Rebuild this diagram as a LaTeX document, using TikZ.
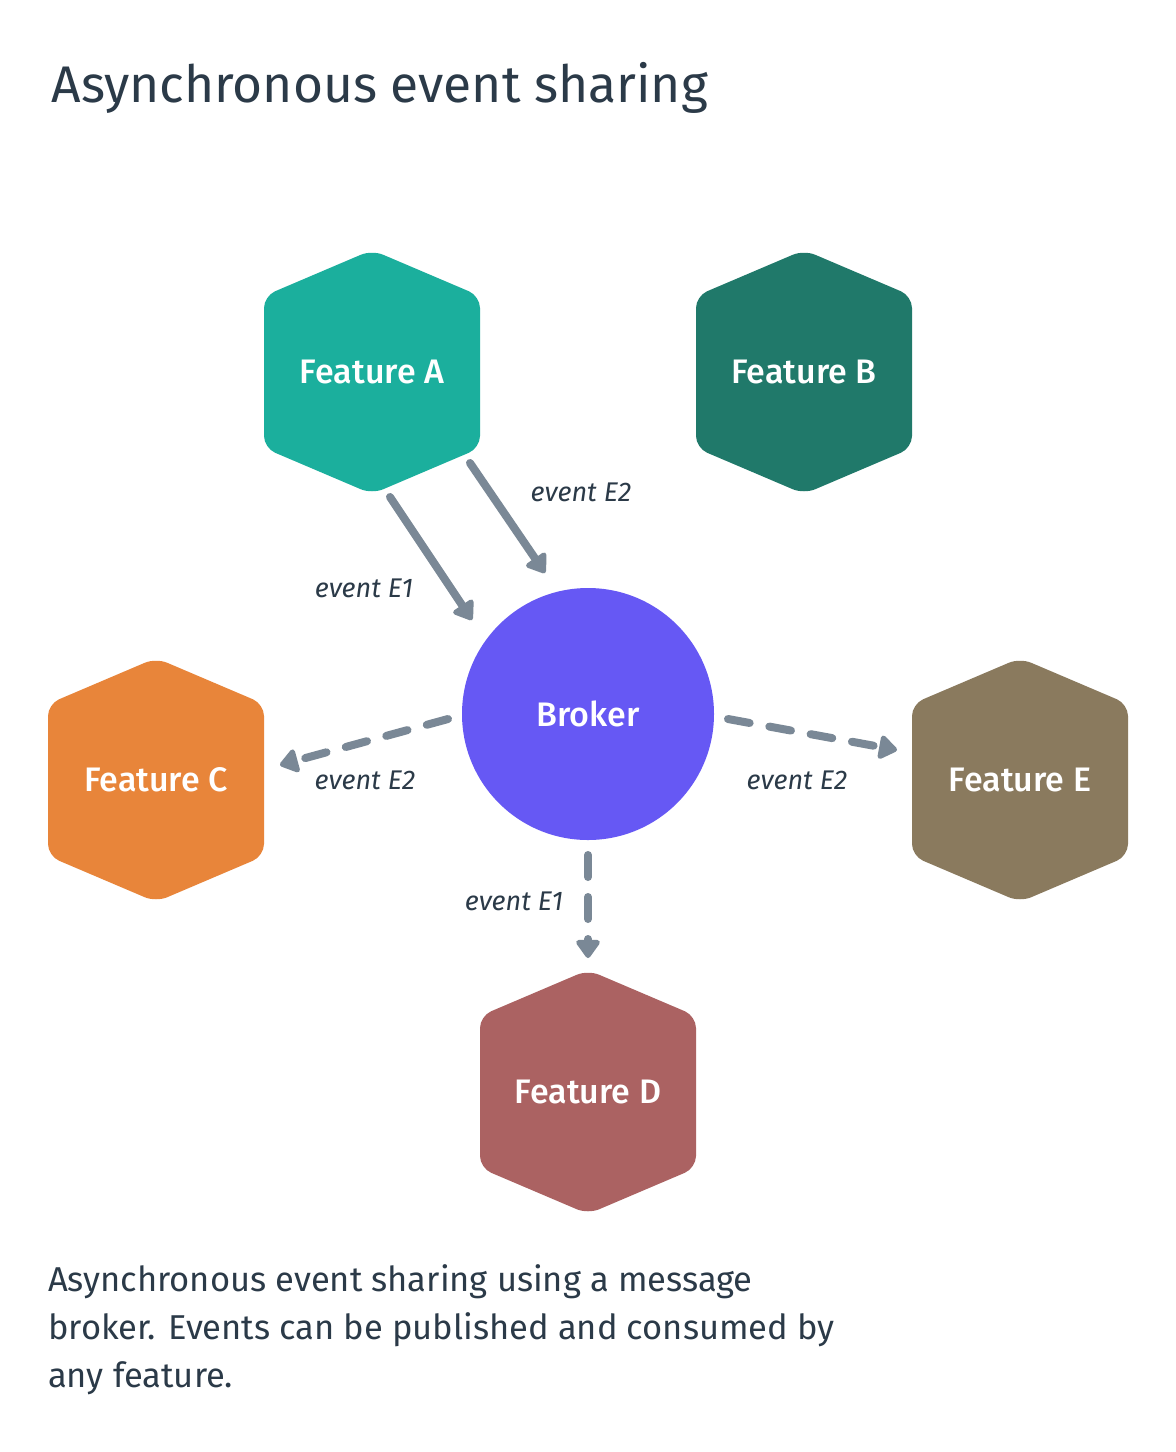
\documentclass[tikz,border=0pt]{standalone}
\usepackage{fontspec}
\setmainfont{Fira Sans}
\newfontfamily\medfont{Fira Sans Medium}
\usetikzlibrary{arrows.meta,calc}
\definecolor{ink}{HTML}{2B3A48}
\definecolor{arrowgray}{HTML}{7A8896}
\definecolor{featA}{HTML}{1BAF9D}
\definecolor{featB}{HTML}{20796A}
\definecolor{featC}{HTML}{E8853A}
\definecolor{featD}{HTML}{AB6262}
\definecolor{featE}{HTML}{8A7A5E}
\definecolor{brokerblue}{HTML}{6658F4}
\tikzset{
  feature/.style={minimum width=216pt,minimum height=248pt,inner sep=0pt,text=white,
    font=\medfont\fontsize{34}{40}\selectfont,
    path picture={\fill[#1,rounded corners=12pt] ($(path picture bounding box.center)+(0pt,122pt)$)
      -- ++(108pt,-46pt) -- ++(0pt,-152pt) -- ++(-108pt,-46pt) -- ++(-108pt,46pt) -- ++(0pt,152pt) -- cycle;}},
  evlabel/.style={text=ink,font=\itshape\fontsize{27}{32}\selectfont},
  flow/.style={draw=arrowgray,line width=8pt,line cap=round,-{Triangle[width=27pt,length=20pt,round]}},
  async/.style={flow,dash pattern=on 22pt off 20pt},
}
\begin{document}
\begin{tikzpicture}[x=1pt,y=1pt]
\useasboundingbox[fill=white] (0,0) rectangle (1176,-1452);
\node[anchor=base west,text=ink,font=\fontsize{51.5}{60}\selectfont] (title) at (48,-102) {Asynchronous event sharing};
% hexagons
\foreach \n/\x/\y in {A/372/372,B/804/372,C/156/780,D/588/1092,E/1020/780} {\node[feature=feat\n] (\n) at (\x,-\y) {Feature \n};}
\node[circle,fill=brokerblue,minimum size=252pt,inner sep=0pt,text=white,font=\medfont\fontsize{34}{40}\selectfont] (Br) at (588,-714) {Broker};
% publish
\draw[flow] ($(A.center)+(18,-125)$) -- ($(Br.center)+(-116,94)$);
\draw[flow] ($(A.center)+(98,-91)$) -- ($(Br.center)+(-43,141)$);
% consume
\draw[async] ($(Br.center)+(-140,-5)$) -- ($(C.center)+(124,15)$);
\draw[async] ($(Br.center)+(140,-5)$) -- ($(E.center)+(-123,30)$);
\draw[async] ($(Br.center)+(0,-141)$) -- ($(D.center)+(0,134)$);
\node[evlabel] (l1) at (364,-588) {event E1};
\node[evlabel] (l2) at (581,-492) {event E2};
\node[evlabel] (l3) at (365,-780) {event E2};
\node[evlabel] (l4) at (797,-780) {event E2};
\node[evlabel] (l5) at (514,-901) {event E1};
\node[anchor=north west,align=left,inner sep=0pt,text=ink,font=\fontsize{34.5}{48}\selectfont] (cap) at (48,-1264)
  {Asynchronous event sharing using a message\\broker. Events can be published and consumed by\\any feature.};
\end{tikzpicture}
\end{document}
